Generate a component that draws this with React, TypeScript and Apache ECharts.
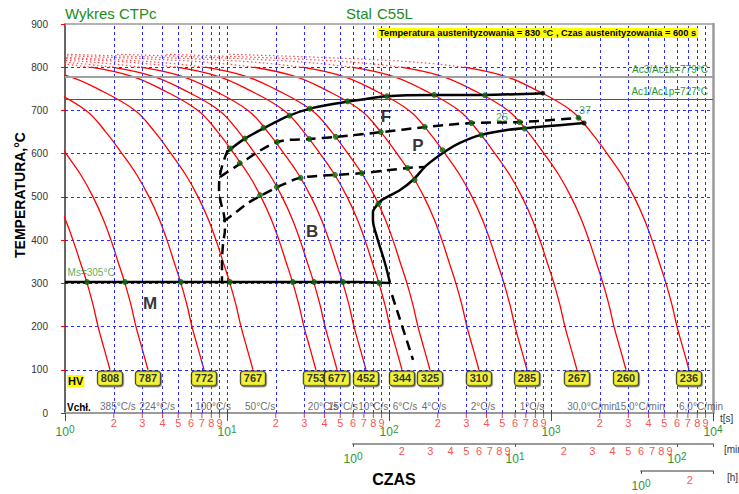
import React, { useEffect, useRef } from 'react';
import * as echarts from 'echarts';

// Temperatures (°C) at which each cooling curve is sampled
const TEMPS = [800, 779, 750, 700, 650, 600, 550, 500, 450, 400, 350, 300, 250, 200, 150, 100];
// Temperatures of the dotted (austenitizing) start of the curves
const DOT_TEMPS = [830, 822, 815, 808, 800];

// Cooling curves: time (s) at each temperature in TEMPS
const C808 = [0.0774, 0.139, 0.209, 0.355, 0.47, 0.592, 0.732, 0.868, 0.999, 1.12, 1.24, 1.37, 1.49, 1.6, 1.74, 1.896];
const C787 = [0.133, 0.238, 0.358, 0.608, 0.807, 1.015, 1.256, 1.49, 1.714, 1.923, 2.124, 2.345, 2.554, 2.742, 2.986, 3.253];
const C772 = [0.294, 0.527, 0.793, 1.348, 1.788, 2.25, 2.783, 3.302, 3.8, 4.261, 4.708, 5.198, 5.66, 6.078, 6.619, 7.21];
const C767 = [0.59, 1.058, 1.592, 2.706, 3.589, 4.515, 5.585, 6.627, 7.626, 8.552, 9.449, 10.43, 11.36, 12.2, 13.28, 14.47];
const C753 = [1.444, 2.588, 3.894, 6.62, 8.779, 11.04, 13.66, 16.21, 18.66, 20.92, 23.12, 25.52, 27.79, 29.84, 32.5, 35.4];
const C677 = [1.95, 3.494, 5.258, 8.939, 11.85, 14.91, 18.45, 21.89, 25.19, 28.25, 31.21, 34.46, 37.52, 40.3, 43.88, 47.8];
const C452 = [2.942, 5.271, 7.931, 13.48, 17.88, 22.5, 27.83, 33.02, 38.0, 42.61, 47.08, 51.98, 56.6, 60.78, 66.19, 72.1];
const C344 = [4.908, 8.794, 13.23, 22.5, 29.83, 37.53, 46.44, 55.1, 63.4, 71.1, 78.56, 86.74, 94.44, 101.4, 110.4, 120.3];
const C325 = [7.303, 13.08, 19.69, 33.47, 44.39, 55.85, 69.09, 81.98, 94.33, 105.8, 116.9, 129.1, 140.5, 150.9, 164.3, 179];
const C310 = [14.65, 26.24, 39.49, 67.13, 89.03, 112, 138.6, 164.4, 189.2, 212.2, 234.4, 258.8, 281.8, 302.6, 329.6, 359];
const C285 = [29.01, 51.97, 78.21, 133, 176.3, 221.8, 274.4, 325.6, 374.7, 420.2, 464.3, 512.6, 558.1, 599.4, 652.7, 711];
const C267 = [59, 105.7, 159.1, 270.4, 358.6, 451.2, 558.2, 662.3, 762, 854.6, 944.2, 1043, 1135, 1219, 1327, 1446];
const C260 = [118.5, 212.3, 319.4, 543, 720.2, 906, 1121, 1330, 1530, 1716, 1896, 2094, 2280, 2448, 2666, 2904];
const C236 = [290.2, 519.9, 782.3, 1330, 1764, 2219, 2745, 3257, 3748, 4203, 4644, 5128, 5583, 5995, 6529, 7112];
const CURVES = [C808, C787, C772, C767, C753, C677, C452, C344, C325, C310, C285, C267, C260, C236];

// Dotted starts: time (s) at each temperature in DOT_TEMPS
const D753 = [0.0513, 0.2124, 0.5345, 0.9452, 1.444];
const D677 = [0.0693, 0.2868, 0.7218, 1.276, 1.95];
const D452 = [0.1045, 0.4326, 1.089, 1.925, 2.942];
const D344 = [0.1744, 0.7218, 1.817, 3.212, 4.908];
const D325 = [0.2596, 1.074, 2.703, 4.779, 7.303];
const D310 = [0.5206, 2.154, 5.421, 9.585, 14.65];
const D285 = [1.031, 4.266, 10.74, 18.98, 29.01];
const D267 = [2.097, 8.676, 21.83, 38.61, 59.0];
const D260 = [4.211, 17.42, 43.85, 77.54, 118.5];
const D236 = [10.31, 42.67, 107.4, 189.9, 290.2];
const DOTTED = [D753, D677, D452, D344, D325, D310, D285, D267, D260, D236];

// Hardness at the end of each curve, and the cooling rates
const HV_VALUES = ['808', '787', '772', '767', '753', '677', '452', '344', '325', '310', '285', '267', '260', '236'];
const END_TIMES = [1.896, 3.253, 7.21, 14.47, 35.4, 47.8, 72.1, 120.3, 179, 359, 711, 1446, 2904, 7112];
const RATE_LABELS = ['385°C/s', '224°C/s', '100°C/s', '50°C/s', '20°C/s', '15°C/s', '10°C/s', '6°C/s', '4°C/s', '2°C/s', '1°C/s', '30,0°C/min', '15,0°C/min', '6,0°C/min'];
const RATE_TIMES = [2.12, 3.7, 8.2, 16.0, 39.1, 52.0, 80, 125.6, 189.6, 380, 763, 1791, 3540, 8434];
const HV_LABEL_TEMP = 80;
const RATE_LABEL_TEMP = 14;

const AC3 = 779;
const AC1 = 727;

// Transformation lines [time s, temperature °C]
const F_START = [[10.0, 604], [12.55, 632], [16.9, 659], [23.8, 687], [33.9, 706], [55.0, 720], [97.2, 733], [189.7, 736], [380, 736], [890, 740]];
const P_START = [[9.06, 546], [11.2, 569], [20.4, 627], [32.5, 634], [47.7, 639], [90.5, 650], [171.6, 662], [325, 671], [644, 673], [1510, 683]];
const B_START = [[9.5, 443], [11.4, 465], [13.5, 486], [16.4, 504], [20.6, 523], [28.2, 544], [47.7, 551], [69.2, 555], [131, 567], [167, 569]];
const B_EDGE = [[10.1, 608], [9.58, 585], [9.06, 551], [8.93, 516], [9.18, 486], [9.58, 458], [9.72, 428], [9.44, 389], [9.31, 342], [9.31, 303]];
const PB_END = [[101.4, 301], [94.4, 347], [84.3, 407], [79.6, 446], [79.6, 465], [84.3, 481], [90.5, 493], [117, 516], [140.6, 539], [171.6, 574], [228, 608], [274, 625], [364.6, 643], [535, 655], [855, 662], [1600, 671]];
const MS_LINE = [[1, 303], [64.4, 303], [101.4, 301]];
const M_END = [[104.4, 273], [140.7, 123]];

const GREEN_DOTS = [
  [1.367, 303], [2.345, 303], [5.198, 303], [10.43, 303], [25.5, 303], [34.5, 303], [52, 303], [86.7, 301],
  [10.5, 612], [12.9, 635], [16.8, 660], [24.3, 688], [32.5, 704], [55.5, 721], [97, 733], [190, 736], [391, 735],
  [12, 578], [20.4, 627], [32.3, 634], [46.9, 639], [89, 650], [166, 662], [322, 671], [639, 673], [1478, 683],
  [16, 504], [20.3, 523], [28.5, 544], [46.4, 551], [67.8, 555], [130, 567],
  [86, 484], [144, 539], [214, 608], [372, 643], [685, 658],
];
const BLACK_DOTS = [[890, 740], [1600, 671]];

const REGION_NAMES = ['F', 'P', 'B', 'M'];
const REGION_POS = [[95.8, 685], [151, 620], [33.5, 421], [3.35, 254]];
const PCT_NAMES = ['25', '37'];
const PCT_POS = [[499, 685], [1622, 701]];
const MS_TEXT = 'Ms=305°C';
const MS_TEXT_POS = [1.03, 326];

const MINOR_DIGITS = [2, 3, 4, 5, 6, 7, 8, 9];
const GRID_MULTS = [1, 2, 3, 4, 5, 6, 7, 8, 9];
const SEC_DECADES = [1, 10, 100, 1000];
const MIN_DECADES = [1, 10];
const HOUR_DIGITS = [2];
const SEC_MAX = 10000;
const MIN_MAX = SEC_MAX / 60;
const H_MAX = SEC_MAX / 3600;

const GREEN = '#2f962f';
const TITLE_GREEN = '#1c8c1c';
const BLUE = '#2a2aff';
const FONT = '"Liberation Sans", Arial, sans-serif';

const decadeLabel = (v: number) => {
  const e = Math.log10(v);
  const r = Math.round(e);
  if (Math.abs(e - r) > 1e-6) return '';
  return `{b|10}{s|${r}}`;
};
const decadeRich = {
  b: { fontSize: 12, color: GREEN, fontFamily: FONT },
  s: { fontSize: 10, color: GREEN, fontFamily: FONT, padding: [0, 0, 6, 0] },
};

export default function App() {
  const ref = useRef<HTMLDivElement>(null);
  useEffect(() => {
    if (!ref.current) return;
    const chart = echarts.init(ref.current, null, { renderer: 'svg', width: 739, height: 494 });

    const vGrid = SEC_DECADES.flatMap((d) => GRID_MULTS.map((k) => k * d)).filter((v) => v > 1 && v < SEC_MAX);
    const secDigits = SEC_DECADES.flatMap((d) => MINOR_DIGITS.map((k) => ({ value: [k * d, 0], name: String(k) })));
    const minDigits = MIN_DECADES.flatMap((d) => MINOR_DIGITS.map((k) => ({ value: [k * d, 0], name: String(k) })));
    const hourDigits = HOUR_DIGITS.map((k) => ({ value: [k, 0], name: String(k) }));

    const blackLine = (data: number[][], dashed: boolean, smooth = 0.3) => ({
      type: 'line',
      data,
      showSymbol: false,
      symbol: 'none',
      smooth,
      silent: true,
      z: 5,
      lineStyle: { color: '#000', width: 2.5, type: dashed ? [10, 6] : 'solid' },
    });

    const series: any[] = [
      {
        type: 'line',
        data: [],
        silent: true,
        z: 1,
        markLine: {
          silent: true,
          symbol: ['none', 'none'],
          label: { show: false },
          animation: false,
          lineStyle: { color: BLUE, type: [3, 3], width: 1 },
          data: vGrid.map((v) => ({ xAxis: v })),
        },
      },
      {
        type: 'line',
        data: [],
        silent: true,
        z: 2,
        markLine: {
          silent: true,
          symbol: ['none', 'none'],
          animation: false,
          data: [
            {
              yAxis: AC3,
              lineStyle: { color: '#a0a0a0', width: 2, type: 'solid' },
              label: { show: true, position: 'insideEndTop', distance: 2, formatter: `Ac3/Ac1k=${AC3}°C`, color: GREEN, fontSize: 10, fontFamily: FONT, padding: [0, 3, 0, 0] },
            },
            {
              yAxis: AC1,
              lineStyle: { color: '#555', width: 1, type: 'solid' },
              label: { show: true, position: 'insideEndTop', distance: 2, formatter: `Ac1/Ac1p=${AC1}°C`, color: GREEN, fontSize: 10, fontFamily: FONT, padding: [0, 3, 0, 0] },
            },
          ],
        },
      },
      ...DOTTED.map((times) => ({
        type: 'line',
        data: times.map((t, i) => [t, DOT_TEMPS[i]]),
        showSymbol: false,
        symbol: 'none',
        smooth: 0.4,
        silent: true,
        z: 3,
        lineStyle: { color: '#ff4a4a', width: 1.2, type: [1.5, 2.5] },
      })),
      ...CURVES.map((times) => ({
        type: 'line',
        data: times.map((t, i) => [t, TEMPS[i]]),
        showSymbol: false,
        symbol: 'none',
        smooth: 0.4,
        silent: true,
        z: 3,
        lineStyle: { color: '#ff0000', width: 1.3 },
      })),
      blackLine(F_START, false),
      blackLine(P_START, true),
      blackLine(B_START, true),
      blackLine(B_EDGE, true, 0.4),
      blackLine(PB_END, false),
      blackLine(MS_LINE, false, 0),
      blackLine(M_END, true, 0),
      {
        type: 'scatter',
        data: GREEN_DOTS,
        symbolSize: 5,
        silent: true,
        z: 6,
        itemStyle: { color: '#0a7a0a', borderColor: '#034003', borderWidth: 0.8 },
      },
      {
        type: 'scatter',
        data: BLACK_DOTS,
        symbolSize: 5,
        silent: true,
        z: 6,
        itemStyle: { color: '#000' },
      },
      {
        type: 'scatter',
        data: REGION_NAMES.map((n, i) => ({ name: n, value: REGION_POS[i] })),
        symbolSize: 1,
        silent: true,
        z: 7,
        itemStyle: { color: 'transparent' },
        label: { show: true, position: 'inside', formatter: '{b}', color: '#000', fontSize: 17, fontWeight: 'bold', fontFamily: FONT },
      },
      {
        type: 'scatter',
        data: PCT_NAMES.map((n, i) => ({ name: n, value: PCT_POS[i] })),
        symbolSize: 1,
        silent: true,
        z: 7,
        itemStyle: { color: 'transparent' },
        label: { show: true, position: 'inside', formatter: '{b}', color: GREEN, fontSize: 11, fontFamily: FONT },
      },
      {
        type: 'scatter',
        data: [{ name: MS_TEXT, value: MS_TEXT_POS }],
        symbolSize: 1,
        silent: true,
        z: 7,
        itemStyle: { color: 'transparent' },
        label: { show: true, position: 'right', distance: 0, formatter: '{b}', color: GREEN, fontSize: 10, fontFamily: FONT },
      },
      {
        type: 'scatter',
        data: END_TIMES.map((t, i) => ({ name: HV_VALUES[i], value: [t, HV_LABEL_TEMP] })),
        symbolSize: 1,
        silent: true,
        z: 8,
        itemStyle: { color: 'transparent' },
        label: {
          show: true, position: 'inside', formatter: '{b}', color: '#000', fontSize: 11, fontWeight: 'bold', fontFamily: FONT,
          backgroundColor: '#ffff00', borderColor: '#000', borderWidth: 1, borderRadius: 3, padding: [2, 3, 1, 3],
          shadowColor: '#888', shadowOffsetX: 1, shadowOffsetY: 1,
        },
      },
      {
        type: 'scatter',
        data: RATE_TIMES.map((t, i) => ({ name: RATE_LABELS[i], value: [t, RATE_LABEL_TEMP] })),
        symbolSize: 1,
        silent: true,
        z: 8,
        itemStyle: { color: 'transparent' },
        label: { show: true, position: 'inside', formatter: '{b}', color: '#444', fontSize: 10, fontFamily: FONT },
      },
      {
        type: 'scatter',
        data: secDigits.map((d) => d.value),
        symbol: 'rect',
        symbolSize: [1, 5],
        symbolOffset: [0, 2.5],
        clip: false,
        silent: true,
        z: 4,
        itemStyle: { color: '#ff0000' },
      },
      {
        type: 'scatter',
        data: secDigits,
        symbolSize: 0,
        clip: false,
        silent: true,
        z: 4,
        itemStyle: { color: 'transparent' },
        label: { show: true, position: 'bottom', distance: 4, formatter: '{b}', color: '#ff2020', fontSize: 11, fontFamily: FONT },
      },
      {
        type: 'scatter',
        xAxisIndex: 2,
        yAxisIndex: 2,
        data: minDigits,
        symbolSize: 0,
        clip: false,
        silent: true,
        itemStyle: { color: 'transparent' },
        label: { show: true, position: 'bottom', distance: 1, formatter: '{b}', color: '#ff2020', fontSize: 11, fontFamily: FONT },
      },
      {
        type: 'scatter',
        xAxisIndex: 3,
        yAxisIndex: 3,
        data: hourDigits,
        symbolSize: 0,
        clip: false,
        silent: true,
        itemStyle: { color: 'transparent' },
        label: { show: true, position: 'bottom', distance: 3, formatter: '{b}', color: '#ff2020', fontSize: 11, fontFamily: FONT },
      },
    ];

    const option: any = {
      animation: false,
      backgroundColor: '#ffffff',
      textStyle: { fontFamily: FONT },
      grid: [
        { left: 65, top: 24, width: 648, height: 389, outerBoundsMode: 'none', containLabel: false },
        { left: 353, top: 443, width: 360, height: 1, outerBoundsMode: 'none', containLabel: false },
        { left: 641, top: 470, width: 72, height: 1, outerBoundsMode: 'none', containLabel: false },
      ],
      xAxis: [
        {
          gridIndex: 0, type: 'log', logBase: 10, min: 1, max: SEC_MAX, position: 'bottom',
          axisLine: { show: true, onZero: false, lineStyle: { color: '#9a9a9a', width: 2 } },
          axisTick: { show: true, length: 8, lineStyle: { color: '#ff0000', width: 1 } },
          axisLabel: { show: true, margin: 11, formatter: decadeLabel, rich: decadeRich },
          splitLine: { show: false },
        },
        {
          gridIndex: 0, type: 'log', logBase: 10, min: 1, max: SEC_MAX, position: 'top',
          axisLine: { show: true, onZero: false, lineStyle: { color: '#9a9a9a', width: 1.5 } },
          axisTick: { show: false }, axisLabel: { show: false }, splitLine: { show: false },
        },
        {
          gridIndex: 1, type: 'log', logBase: 10, min: 1, max: MIN_MAX, position: 'bottom',
          axisLine: { show: true, onZero: false, lineStyle: { color: '#9a9a9a', width: 2 } },
          axisTick: { show: true, length: 3, lineStyle: { color: '#555', width: 1 } },
          axisLabel: { show: true, margin: 7, formatter: decadeLabel, rich: decadeRich },
          splitLine: { show: false },
        },
        {
          gridIndex: 2, type: 'log', logBase: 10, min: 1, max: H_MAX, position: 'bottom',
          axisLine: { show: true, onZero: false, lineStyle: { color: '#9a9a9a', width: 2 } },
          axisTick: { show: true, length: 3, lineStyle: { color: '#555', width: 1 } },
          axisLabel: { show: true, margin: 7, formatter: decadeLabel, rich: decadeRich },
          splitLine: { show: false },
        },
      ],
      yAxis: [
        {
          gridIndex: 0, type: 'value', min: 0, max: 900, interval: 100, position: 'left',
          axisLine: { show: true, onZero: false, lineStyle: { color: '#333', width: 1.5 } },
          axisTick: { show: true, length: 4, lineStyle: { color: '#ff0000' } },
          axisLabel: { color: '#333', fontSize: 10, margin: 17, fontFamily: FONT },
          splitLine: { show: true, showMinLine: false, showMaxLine: false, lineStyle: { color: BLUE, type: [3, 3], width: 1 } },
        },
        {
          gridIndex: 0, type: 'value', min: 0, max: 900, position: 'right',
          axisLine: { show: true, onZero: false, lineStyle: { color: '#9a9a9a', width: 2.5 } },
          axisTick: { show: false }, axisLabel: { show: false }, splitLine: { show: false },
        },
        { gridIndex: 1, type: 'value', min: 0, max: 1, show: false },
        { gridIndex: 2, type: 'value', min: 0, max: 1, show: false },
      ],
      graphic: [
        { type: 'text', x: 65, y: 13, silent: true, style: { text: 'Wykres CTPc', fill: TITLE_GREEN, fontSize: 15, fontFamily: FONT, align: 'left', verticalAlign: 'middle' } },
        { type: 'text', x: 346, y: 13, silent: true, style: { text: 'Stal', fill: TITLE_GREEN, fontSize: 15, fontFamily: FONT, align: 'left', verticalAlign: 'middle' } },
        { type: 'text', x: 377, y: 13, silent: true, style: { text: 'C55L', fill: TITLE_GREEN, fontSize: 15, fontFamily: FONT, align: 'left', verticalAlign: 'middle' } },
        { type: 'text', x: 377, y: 33, silent: true, z: 10, style: { text: 'Temperatura austenityzowania = 830 °C , Czas austenityzowania = 600 s', fill: '#000', fontSize: 9.3, fontWeight: 'bold', fontFamily: FONT, align: 'left', verticalAlign: 'middle', backgroundColor: '#ffff00', padding: [1, 2, 0, 2] } },
        { type: 'text', x: 20, y: 195, rotation: Math.PI / 2, silent: true, style: { text: 'TEMPERATURA,°C', fill: '#000', fontSize: 14, fontWeight: 'bold', fontFamily: FONT, align: 'center', verticalAlign: 'middle' } },
        { type: 'text', x: 394, y: 479, silent: true, style: { text: 'CZAS', fill: '#000', fontSize: 16, fontWeight: 'bold', fontFamily: FONT, align: 'center', verticalAlign: 'middle' } },
        { type: 'text', x: 67, y: 381, silent: true, z: 10, style: { text: 'HV', fill: '#000', fontSize: 11, fontWeight: 'bold', fontFamily: FONT, align: 'left', verticalAlign: 'middle', backgroundColor: '#ffff00', padding: [1, 1, 0, 1] } },
        { type: 'text', x: 67, y: 407, silent: true, z: 10, style: { text: 'Vchł.', fill: '#000', fontSize: 10, fontWeight: 'bold', fontFamily: FONT, align: 'left', verticalAlign: 'middle' } },
        { type: 'text', x: 720, y: 418, silent: true, style: { text: 't[s]', fill: '#333', fontSize: 10, fontFamily: FONT, align: 'left', verticalAlign: 'middle' } },
        { type: 'text', x: 724, y: 449, silent: true, style: { text: '[min]', fill: '#333', fontSize: 10, fontFamily: FONT, align: 'left', verticalAlign: 'middle' } },
        { type: 'text', x: 727, y: 477, silent: true, style: { text: '[h]', fill: '#333', fontSize: 10, fontFamily: FONT, align: 'left', verticalAlign: 'middle' } },
      ],
      series,
    };

    chart.setOption(option);
    return () => chart.dispose();
  }, []);

  return <div ref={ref} style={{ position: 'fixed', left: 0, top: 0, width: 739, height: 494, background: '#fff' }} />;
}
